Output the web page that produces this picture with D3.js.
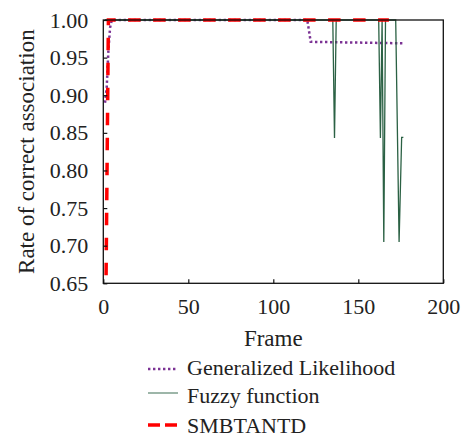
<!DOCTYPE html>
<html>
<head>
<meta charset="utf-8">
<script src="https://cdn.jsdelivr.net/npm/d3@7"></script>
<style>
  body { margin: 0; background: #fff; }
</style>
</head>
<body>
<div id="main"></div>
<script>
var ctx = {
    w: 465,
    h: 437,
    left: 103.3,
    right: 443.3,
    top: 20,
    bottom: 283.3,
    font: "'Liberation Serif'",
    fs: "22px"
};

// series: [frame, rate]
var likelihoodFrames = [1, 2, 3, 4, 5, 120, 122, 176];
var likelihoodRates  = [0.89, 0.91, 0.96, 0.99, 1.0, 1.0, 0.971, 0.969];

var fuzzyFrames = [1, 135, 136, 137, 162, 163, 164, 165, 166, 172, 174, 175.5, 176.5];
var fuzzyRates  = [1.0, 1.0, 0.843, 1.0, 1.0, 0.843, 1.0, 0.705, 1.0, 1.0, 0.705, 0.844, 0.844];

var smbFrames = [1.6, 3, 168];
var smbRates  = [0.65, 1.0, 1.0];

var xTicks = [0, 50, 100, 150, 200];
var yTicks = [0.65, 0.70, 0.75, 0.80, 0.85, 0.90, 0.95, 1.00];

var seriesNames = ["Generalized Likelihood", "Fuzzy function", "SMBTANTD"];
var seriesColors = ["#7b3294", "#2b6144", "#ff0000"];

var zip = function(fr, rt){ return fr.map(function(f, i){ return [f, rt[i]]; }); };

var serif = function(sel, size){
    sel.style("font-family", ctx.font).style("font-size", size || ctx.fs).attr("fill", "#222");
};

var createViz = function(){
    var svg = d3.select("#main").append("svg")
        .attr("width", ctx.w).attr("height", ctx.h);

    var x = d3.scaleLinear().domain([0, 200]).range([ctx.left, ctx.right]);
    var y = d3.scaleLinear().domain([0.65, 1.0]).range([ctx.bottom, ctx.top]);

    var line = d3.line().x(function(d){ return x(d[0]); }).y(function(d){ return y(d[1]); });

    // series (purple, green, red on top)
    svg.append("path").datum(zip(likelihoodFrames, likelihoodRates))
        .attr("d", line).attr("fill", "none")
        .attr("stroke", seriesColors[0]).attr("stroke-width", 2.5)
        .attr("stroke-dasharray", "2.4,2.6");
    svg.append("path").datum(zip(fuzzyFrames, fuzzyRates))
        .attr("d", line).attr("fill", "none")
        .attr("stroke", seriesColors[1]).attr("stroke-width", 1.3);
    svg.append("path").datum(zip(smbFrames, smbRates))
        .attr("d", line).attr("fill", "none")
        .attr("stroke", seriesColors[2]).attr("stroke-width", 3.5)
        .attr("stroke-dasharray", "12.5,12.5")
        .attr("stroke-dashoffset", 17);

    // frame box
    svg.append("rect")
        .attr("x", ctx.left).attr("y", ctx.top)
        .attr("width", ctx.right - ctx.left).attr("height", ctx.bottom - ctx.top)
        .attr("fill", "none").attr("stroke", "#111").attr("stroke-width", 1.3);

    // axes with inward ticks
    var xAxis = svg.append("g")
        .attr("transform", "translate(0," + ctx.bottom + ")")
        .call(d3.axisBottom(x).tickValues(xTicks).tickSizeInner(-4).tickSizeOuter(0).tickPadding(15));
    xAxis.select(".domain").remove();
    xAxis.selectAll("line").attr("stroke", "#111").attr("stroke-width", 1.2);
    xAxis.selectAll("text").call(serif);

    var yAxis = svg.append("g")
        .attr("transform", "translate(" + ctx.left + ",0)")
        .call(d3.axisLeft(y).tickValues(yTicks).tickFormat(d3.format(".2f"))
              .tickSizeInner(-4).tickSizeOuter(0).tickPadding(15));
    yAxis.select(".domain").remove();
    yAxis.selectAll("line").attr("stroke", "#111").attr("stroke-width", 1.2);
    yAxis.selectAll("text").call(serif);

    // axis labels
    svg.append("text")
        .attr("x", (ctx.left + ctx.right) / 2)
        .attr("y", 346)
        .attr("text-anchor", "middle")
        .text("Frame")
        .call(serif, "23px");
    svg.append("text")
        .attr("transform", "translate(34," + ((ctx.top + ctx.bottom) / 2) + ") rotate(-90)")
        .attr("text-anchor", "middle")
        .text("Rate of correct association")
        .call(serif, "23px");

    // legend
    var legY = [369, 393, 425];
    var legBase = [375, 402.5, 432.5];
    var legStyles = [
        {w: 2.5, dash: "2.4,2.6", op: 1},
        {w: 1.3, dash: null, op: 0.7},
        {w: 3.5, dash: "12,5", op: 1}
    ];
    seriesNames.forEach(function(name, i){
        var g = svg.append("g");
        g.append("line")
            .attr("x1", 148).attr("x2", 178)
            .attr("y1", legY[i]).attr("y2", legY[i])
            .attr("stroke", seriesColors[i]).attr("stroke-width", legStyles[i].w)
            .attr("stroke-dasharray", legStyles[i].dash)
            .attr("opacity", legStyles[i].op);
        g.append("text")
            .attr("x", 187).attr("y", legBase[i])
            .text(name)
            .call(serif);
    });
};

createViz();
</script>
</body>
</html>
